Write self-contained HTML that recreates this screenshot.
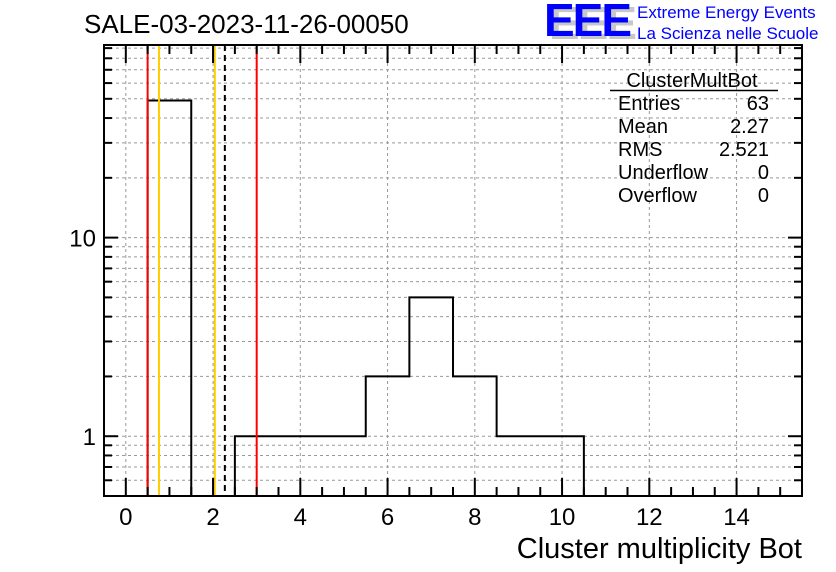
<!DOCTYPE html>
<html><head><meta charset="utf-8"><style>
html,body{margin:0;padding:0;background:#fff;}
svg{display:block;font-family:"Liberation Sans",Arial,sans-serif;}
</style></head><body>
<svg id="c" width="836" height="572" viewBox="0 0 836 572">
<rect x="0" y="0" width="836" height="572" fill="#fff"/>
<g id="grid"></g>
<g id="marks"></g>
<g id="lines"></g>
<g id="axes"></g>
<text x="84" y="33" font-size="26">SALE-03-2023-11-26-00050</text>
<g>
<text x="549" y="39" font-size="46" font-weight="bold" fill="#c8c8c8" letter-spacing="-2">EEE</text>
<text x="544" y="36" font-size="46" font-weight="bold" fill="#0000ff" letter-spacing="-2">EEE</text>
</g>
<text x="637" y="18" font-size="17" fill="#0000ff">Extreme Energy Events</text>
<text x="637" y="39" font-size="17" fill="#0000ff">La Scienza nelle Scuole</text>
<g font-size="20">
<text x="692" y="87" text-anchor="middle">ClusterMultBot</text>
<line x1="610" y1="90.5" x2="778" y2="90.5" stroke="#000" stroke-width="1.5"/>
<text x="618" y="110">Entries</text><text x="769" y="110" text-anchor="end">63</text>
<text x="618" y="133">Mean</text><text x="769" y="133" text-anchor="end">2.27</text>
<text x="618" y="156">RMS</text><text x="769" y="156" text-anchor="end">2.521</text>
<text x="618" y="179">Underflow</text><text x="769" y="179" text-anchor="end">0</text>
<text x="618" y="202">Overflow</text><text x="769" y="202" text-anchor="end">0</text>
</g>
<text x="802" y="558" font-size="29" text-anchor="end">Cluster multiplicity Bot</text>
</svg>
<script>
const binEdgesLow = [0.5,1.5,2.5,3.5,4.5,5.5,6.5,7.5,8.5,9.5];
const binCounts = [49,0,1,1,1,2,5,2,1,1];
const xTickLabels = [0,2,4,6,8,10,12,14];
const yTickLabels = [1,10];
const redLines = [0.5,3.0];
const orangeLines = [0.76,2.04];
const meanLine = [2.27];

const L=104,R=802,T=45,B=496,XMIN=-0.5,XMAX=15.5,YMIN=0.5,YMAX=93.3;
const NS='http://www.w3.org/2000/svg';
function X(v){return L+(v-XMIN)/(XMAX-XMIN)*(R-L);}
function Y(v){return B-(Math.log10(v)-Math.log10(YMIN))/(Math.log10(YMAX)-Math.log10(YMIN))*(B-T);}
function mk(p,tag,a){const e=document.createElementNS(NS,tag);for(const k in a)e.setAttribute(k,a[k]);p.appendChild(e);return e;}
const grid=document.getElementById('grid'),marks=document.getElementById('marks'),lines=document.getElementById('lines'),axes=document.getElementById('axes');

const yVals=[];
for(let d=0.1;d<=100;d*=10){for(let m=1;m<10;m++){const v=+(m*d).toFixed(3);if(v>=YMIN&&v<=YMAX)yVals.push(v);}}
yVals.forEach(v=>{
  const y=Y(v);
  const g=mk(grid,'line',{x1:L,x2:R,y1:y,y2:y,stroke:'#999','stroke-dasharray':'3,3','stroke-width':1});
  
  
  const major=yTickLabels.includes(v);
  const len=major?14:8;
  mk(axes,'line',{x1:L,x2:L+len,y1:y,y2:y,stroke:'#000','stroke-width':2});
  mk(axes,'line',{x1:R,x2:R-len,y1:y,y2:y,stroke:'#000','stroke-width':2});
});
yTickLabels.forEach(v=>{
  const t=mk(axes,'text',{x:L-8,y:Y(v)+9,'font-size':24,'text-anchor':'end'});
  t.textContent=v;
  
  
});
xTickLabels.forEach(v=>{
  const x=X(v);
  const g=mk(grid,'line',{x1:x,x2:x,y1:T,y2:B,stroke:'#999','stroke-dasharray':'3,3','stroke-width':1});
  
  
  const t=mk(axes,'text',{x:x,y:B+29,'font-size':24,'text-anchor':'middle'});
  t.textContent=v;
  
  
});
for(let v=0;v<=XMAX;v+=0.5){
  const x=X(v);const major=Number.isInteger(v/2);const len=major?18:9;
  mk(axes,'line',{x1:x,x2:x,y1:B,y2:B-len,stroke:'#000','stroke-width':2});
  mk(axes,'line',{x1:x,x2:x,y1:T,y2:T+len,stroke:'#000','stroke-width':2});
}
let d='';
binEdgesLow.forEach((lo,i)=>{
  const c=binCounts[i];
  const y=c>0?Y(c):B;
  const x0=X(lo),x1=X(lo+1);
  d+=(i===0?`M${x0},${B}L${x0},${y}`:`L${x0},${y}`)+`L${x1},${y}`;
  const r=mk(marks,'rect',{x:x0,y:y,width:x1-x0,height:B-y,fill:'none',stroke:'none'});
  
  
});
d+=`L${X(binEdgesLow[binEdgesLow.length-1]+1)},${B}`;
const p=mk(marks,'path',{d:d,fill:'none',stroke:'#000','stroke-width':2});


function vline(v,col,dash,name){
  const l=mk(lines,'line',{x1:X(v),x2:X(v),y1:T,y2:B,stroke:col,'stroke-width':2});
  if(dash)l.setAttribute('stroke-dasharray',dash);
  
  
}
redLines.forEach(v=>vline(v,'#ff0000',null,'red-line'));
orangeLines.forEach(v=>vline(v,'#ffcc00',null,'orange-line'));
meanLine.forEach(v=>vline(v,'#000',"6,4",'mean-line'));
const f=mk(axes,'rect',{x:L,y:T,width:R-L,height:B-T,fill:'none',stroke:'#000','stroke-width':2});


</script>
</body></html>
